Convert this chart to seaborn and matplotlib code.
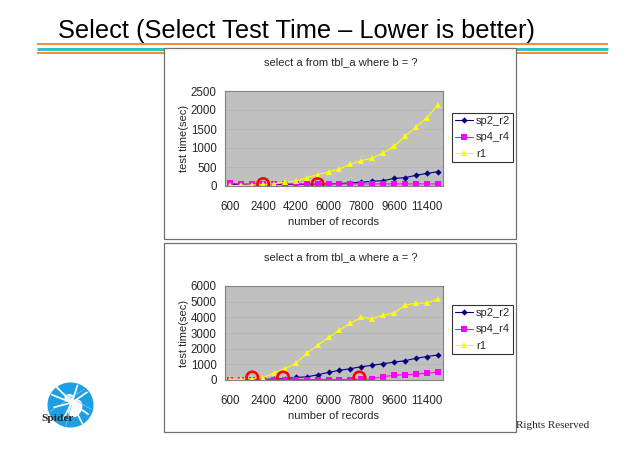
import pandas as pd
import matplotlib
matplotlib.use("Agg")
import matplotlib.pyplot as plt
import seaborn as sns
from matplotlib.patches import Rectangle, Circle, Ellipse
from matplotlib.lines import Line2D

sns.set_style("white")
plt.rcParams['font.family'] = ['Liberation Sans', 'DejaVu Sans']

# x categories (number of records)
records = [600, 1200, 1800, 2400, 3000, 3600, 4200, 4800, 5400, 6000,
           6600, 7200, 7800, 8400, 9000, 9600, 10200, 10800, 11400, 12000]
tick_records = [600, 2400, 4200, 6000, 7800, 9600, 11400]
series_names = ["sp2_r2", "sp4_r4", "r1"]

# select a from tbl_a where b = ?
sp2_r2_b = [40, 35, 35, 40, 40, 40, 45, 45, 50, 55, 65, 80, 100, 125, 140, 200, 220, 280, 330, 375]
sp4_r4_b = [70, 55, 55, 55, 55, 55, 55, 55, 55, 55, 55, 55, 55, 55, 55, 55, 55, 55, 55, 55]
r1_b = [15, 15, 25, 40, 60, 100, 130, 220, 300, 370, 450, 575, 665, 730, 870, 1040, 1310, 1545, 1790, 2120]

# select a from tbl_a where a = ?
sp2_r2_a = [20, 20, 30, 40, 60, 80, 160, 200, 330, 490, 615, 720, 850, 935, 1040, 1140, 1230, 1380, 1500, 1590]
sp4_r4_a = [30, 30, 30, 30, 30, 30, 30, 30, 30, 30, 30, 30, 40, 85, 210, 300, 340, 370, 430, 500]
r1_a = [40, 40, 80, 150, 460, 730, 1080, 1700, 2215, 2715, 3185, 3630, 4000, 3920, 4130, 4265, 4760, 4910, 4910, 5150]

# red hand-drawn highlight circles
circle_b_x = [2400, 5400]
circle_b_y = [50, 50]
circle_a_x = [1800, 3500, 7700]
circle_a_y = [160, 160, 160]

W, H = 640, 449
palette = {"sp2_r2": "#000080", "sp4_r4": "#FF00FF", "r1": "#FFFF00"}
markers = {"sp2_r2": "D", "sp4_r4": "s", "r1": "^"}
marker_size = {"D": 3.2, "s": 3.7, "^": 5.0}


def fx(x):
    return x / W


def fy(y):
    return 1 - y / H


def make_long(a, b, c):
    rows = []
    for name, vals in zip(series_names, [a, b, c]):
        for r, v in zip(records, vals):
            rows.append({"records": r, "time": v, "series": name})
    return pd.DataFrame(rows)


def fix_marker_sizes(lines):
    for ln in lines:
        m = ln.get_marker()
        if m in marker_size:
            ln.set_markersize(marker_size[m])


fig = plt.figure(figsize=(6.4, 4.49), dpi=100)

# slide header
fig.text(fx(58), fy(38), "Select (Select Test Time \u2013 Lower is better)",
         fontsize=18.3, ha="left", va="baseline", color="black")
for yy, col, lw in [(44.3, "#F88A32", 2.0), (49.3, "#33C3BE", 3.0), (53.3, "#F88A32", 2.0)]:
    fig.add_artist(Line2D([fx(37), fx(608)], [fy(yy), fy(yy)], color=col,
                          lw=lw * 0.72, zorder=-3, solid_capstyle="butt"))

# chart boxes
for top, bottom in [(48, 239), (243, 432)]:
    fig.add_artist(Rectangle((fx(164), fy(bottom)), fx(516) - fx(164), fy(top) - fy(bottom),
                             transform=fig.transFigure, facecolor="white",
                             edgecolor="#707070", lw=0.9, zorder=-2))


def draw_chart(df, box_top, plot_top, plot_bottom, legend_top, ymax, ystep, title,
               cx, cy):
    ax = fig.add_axes([fx(225), fy(plot_bottom), fx(443) - fx(225), fy(plot_top) - fy(plot_bottom)])
    ax.set_facecolor("#C0C0C0")
    sns.lineplot(data=df, x="records", y="time", hue="series", style="series",
                 palette=palette, markers=markers, dashes=False, ax=ax,
                 linewidth=0.8, markersize=4, markeredgewidth=0, hue_order=series_names)
    fix_marker_sizes(ax.lines)
    ax.scatter(cx, cy, s=68, facecolors="none", edgecolors="#FF0000", linewidths=1.9, zorder=10)
    ax.set_xlim(300, 12300)
    ax.set_ylim(0, ymax)
    ax.set_xticks(tick_records)
    ax.set_xticklabels([str(t) for t in tick_records])
    ax.set_yticks(list(range(0, ymax + 1, ystep)))
    ax.grid(axis="y", color="#B2B2B2", lw=0.5)
    ax.set_axisbelow(True)
    for s in ax.spines.values():
        s.set_color("#808080")
        s.set_linewidth(0.8)
    ax.tick_params(axis="both", labelsize=8.3, direction="out", length=2.5,
                   color="#808080", width=0.8)
    ax.tick_params(axis="x", pad=8)
    ax.tick_params(axis="y", pad=3.5)
    ax.set_xlabel("number of records", fontsize=8)
    ax.set_ylabel("test time(sec)", fontsize=8)
    ax.xaxis.set_label_coords(0.5, -0.33)
    ax.yaxis.set_label_coords(-0.165, 0.5)
    fig.text(fx(341), fy(box_top + 14), title, fontsize=8, ha="center", va="center")
    sns.move_legend(ax, "upper left", bbox_to_anchor=(fx(452), fy(legend_top)),
                    bbox_transform=fig.transFigure, borderaxespad=0, title=None,
                    frameon=True, fancybox=False, edgecolor="black", fontsize=8,
                    handlelength=1.6, handletextpad=0.25, borderpad=0.3,
                    labelspacing=0.55)
    leg = ax.get_legend()
    leg.get_frame().set_linewidth(0.8)
    fix_marker_sizes(leg.legend_handles)
    return ax


draw_chart(make_long(sp2_r2_b, sp4_r4_b, r1_b), 48, 91, 186, 113, 2500, 500,
           "select a from tbl_a where b = ?", circle_b_x, circle_b_y)
draw_chart(make_long(sp2_r2_a, sp4_r4_a, r1_a), 243, 286, 380, 305, 6000, 1000,
           "select a from tbl_a where a = ?", circle_a_x, circle_a_y)

# logo
lax = fig.add_axes([fx(47), fy(428), fx(94) - fx(47), fy(382) - fy(428)])
lax.set_xlim(-1, 1)
lax.set_ylim(-1, 1)
lax.axis("off")
lax.add_patch(Circle((0, 0), 0.95, color="#1E9FE3"))
for a, b in [((-0.9, -0.3), (0.6, 0.7)), ((-0.6, 0.7), (0.9, -0.2)), ((-0.2, -0.9), (0.3, 0.9))]:
    lax.plot([a[0], b[0]], [a[1], b[1]], color="#7CC8F0", lw=0.5)
lax.add_patch(Ellipse((0.2, -0.15), 0.5, 0.75, angle=-25, color="white"))
lax.add_patch(Ellipse((-0.05, 0.3), 0.35, 0.3, color="white"))
for lx, ly in [(-0.6, 0.8), (-0.8, 0.45), (0.3, 0.85), (0.7, 0.55), (-0.7, -0.1), (0.75, -0.4),
               (-0.3, -0.6), (0.5, -0.8)]:
    lax.plot([0.05, lx], [0.1, ly], color="white", lw=1.2)
fig.text(fx(41), fy(421), "Spider", fontsize=8.2, fontweight="bold",
         family=["Liberation Serif", "DejaVu Serif"], ha="left", va="baseline")

fig.text(fx(516), fy(428), "Rights Reserved", fontsize=8,
         family=["Liberation Serif", "DejaVu Serif"], ha="left", va="baseline")

fig.savefig("out.png", dpi=100)
